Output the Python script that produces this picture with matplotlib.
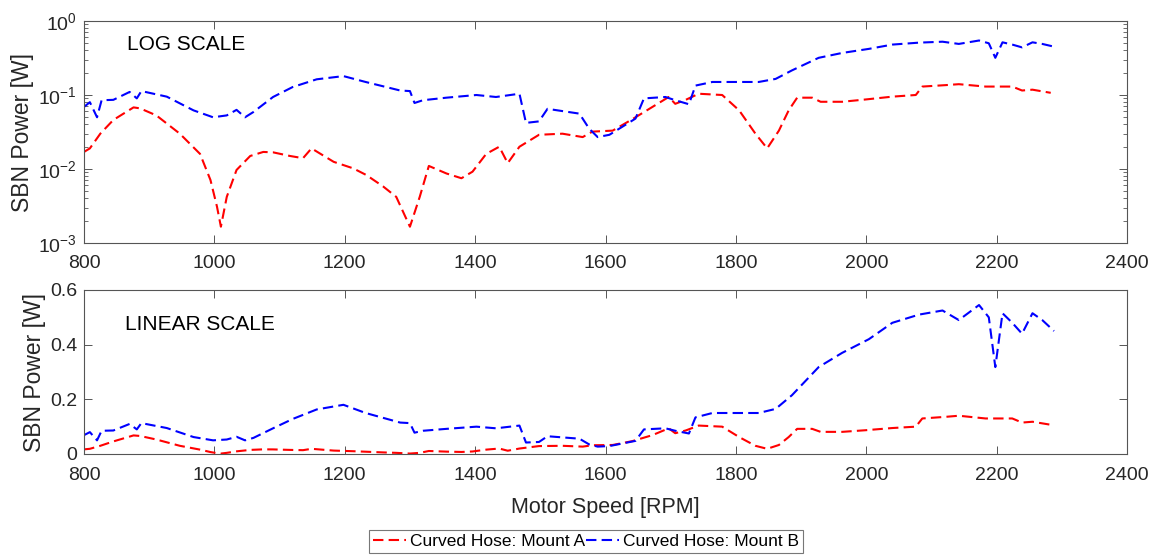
import numpy as np
import matplotlib
matplotlib.use("Agg")
import matplotlib.pyplot as plt
from matplotlib.ticker import LogLocator, NullFormatter

plt.rcParams['font.family'] = ['Liberation Sans', 'DejaVu Sans']
plt.rcParams['mathtext.fontset'] = 'custom'
plt.rcParams['mathtext.rm'] = 'Liberation Sans'
plt.rcParams['mathtext.it'] = 'Liberation Sans:italic'

# Curved Hose: Mount A (red)
rpm_a = [800, 809, 825, 845, 876, 886, 911, 947, 978, 994, 1004, 1010, 1019, 1034,
         1055, 1075, 1090, 1116, 1136, 1149, 1183, 1213, 1233, 1259, 1279, 1300,
         1315, 1329, 1356, 1379, 1396, 1417, 1437, 1450, 1468, 1498, 1534, 1565,
         1580, 1611, 1641, 1672, 1697, 1707, 1723, 1743, 1779, 1805, 1830, 1848,
         1866, 1881, 1894, 1917, 1930, 1963, 1999, 2040, 2076, 2086, 2122, 2142,
         2183, 2224, 2239, 2255, 2283]
pow_a = [0.017, 0.019, 0.03, 0.046, 0.068, 0.066, 0.053, 0.03, 0.016, 0.0071,
         0.0031, 0.00166, 0.0042, 0.0097, 0.015, 0.017, 0.0168, 0.015, 0.014,
         0.019, 0.0125, 0.0102, 0.0083, 0.0058, 0.0042, 0.00166, 0.0042, 0.011,
         0.0087, 0.0075, 0.0092, 0.016, 0.02, 0.012, 0.02, 0.029, 0.03, 0.027,
         0.032, 0.033, 0.047, 0.069, 0.094, 0.076, 0.086, 0.104, 0.1, 0.062,
         0.03, 0.019, 0.033, 0.062, 0.092, 0.092, 0.081, 0.081, 0.087, 0.095,
         0.1, 0.13, 0.136, 0.14, 0.13, 0.13, 0.115, 0.118, 0.107]

# Curved Hose: Mount B (blue)
rpm_b = [800, 809, 820, 827, 845, 870, 881, 888, 927, 968, 998, 1019, 1034, 1047,
         1060, 1090, 1120, 1157, 1198, 1232, 1285, 1300, 1307, 1320, 1356, 1402,
         1432, 1468, 1478, 1498, 1511, 1560, 1575, 1588, 1606, 1646, 1659, 1692,
         1707, 1728, 1738, 1764, 1835, 1861, 1886, 1927, 1963, 2004, 2040, 2081,
         2117, 2142, 2173, 2188, 2198, 2209, 2224, 2239, 2255, 2270, 2288]
pow_b = [0.069, 0.08, 0.05, 0.085, 0.086, 0.11, 0.09, 0.113, 0.095, 0.062, 0.05,
         0.053, 0.063, 0.05, 0.059, 0.094, 0.128, 0.163, 0.18, 0.15, 0.115, 0.113,
         0.078, 0.085, 0.092, 0.1, 0.094, 0.104, 0.042, 0.044, 0.065, 0.056,
         0.035, 0.027, 0.029, 0.048, 0.09, 0.094, 0.085, 0.075, 0.134, 0.15,
         0.15, 0.165, 0.215, 0.318, 0.37, 0.42, 0.48, 0.51, 0.525, 0.49, 0.545,
         0.5, 0.318, 0.515, 0.48, 0.44, 0.515, 0.49, 0.45]

xticks = [800, 1000, 1200, 1400, 1600, 1800, 2000, 2200, 2400]
lin_yticks = [0, 0.2, 0.4, 0.6]

W, H = 1163, 556
fig = plt.figure(figsize=(W / 100, H / 100), dpi=100)
ax1 = fig.add_axes([84 / W, 1 - 243 / H, 1043 / W, 222 / H])
ax2 = fig.add_axes([84 / W, 1 - 454 / H, 1043 / W, 164 / H])

tc = '#262626'
sc = '#555555'
for ax in (ax1, ax2):
    la, = ax.plot(rpm_a, pow_a, color='red', lw=1.5, linestyle='--', dashes=(5, 2.5),
                  label='Curved Hose: Mount A')
    lb, = ax.plot(rpm_b, pow_b, color='blue', lw=1.5, linestyle='--', dashes=(5, 2.5),
                  label='Curved Hose: Mount B')
    ax.set_xlim(800, 2400)
    ax.set_xticks(xticks)
    ax.tick_params(which='both', direction='in', top=True, right=True,
                   colors=sc, labelcolor=tc, labelsize=14)
    ax.tick_params(which='major', length=6, width=0.7)
    ax.tick_params(which='minor', length=3, width=0.6)
    ax.tick_params(axis='x', which='major', pad=9)
    ax.tick_params(axis='y', which='major', pad=5)
    for s in ax.spines.values():
        s.set_color(sc)
        s.set_linewidth(0.8)
    ax.set_ylabel('SBN Power [W]', fontsize=16.5, color=tc, labelpad=3)

ax1.set_yscale('log')
ax1.set_ylim(1e-3, 1)
ax1.yaxis.set_minor_locator(LogLocator(base=10, subs=np.arange(2, 10)))
ax1.yaxis.set_minor_formatter(NullFormatter())
ax1.text(866, 0.48, 'LOG SCALE', fontsize=15, color='black', va='center')

ax2.set_ylim(0, 0.6)
ax2.set_yticks(lin_yticks)
ax2.set_yticklabels(['0', '0.2', '0.4', '0.6'])
ax2.text(863, 0.475, 'LINEAR SCALE', fontsize=15, color='black', va='center')
ax2.set_xlabel('Motor Speed [RPM]', fontsize=15.5, color=tc, labelpad=10)

leg = fig.legend(handles=[la, lb], loc='center', ncol=2,
                 bbox_to_anchor=(586 / W, 1 - 541.5 / H), fontsize=12.5,
                 frameon=True, fancybox=False, handlelength=1.9,
                 handletextpad=0.2, columnspacing=0.1, borderpad=0.25,
                 borderaxespad=0)
leg.get_frame().set_edgecolor(sc)
leg.get_frame().set_linewidth(0.8)
for t in leg.get_texts():
    t.set_color('black')

fig.savefig('out.png', dpi=100)
